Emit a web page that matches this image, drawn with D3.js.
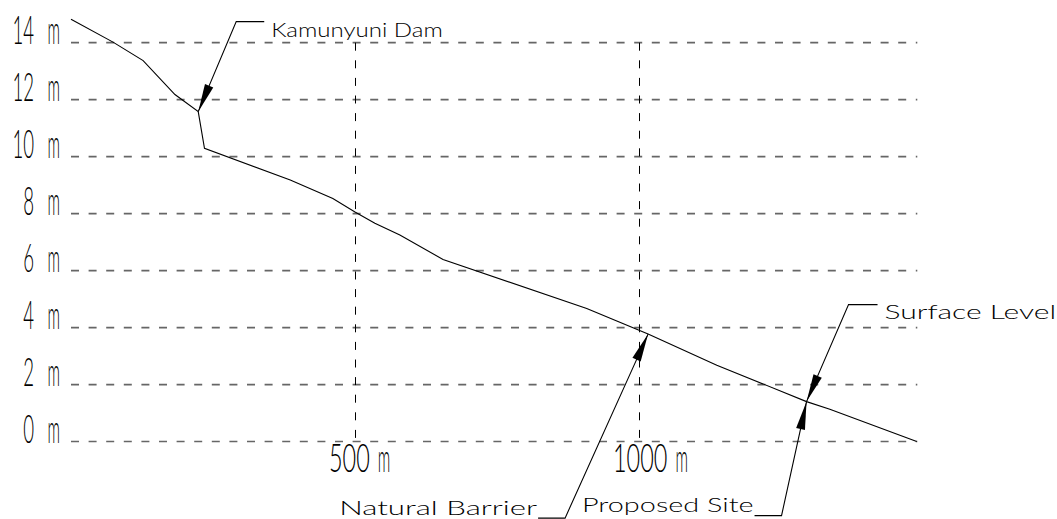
<!DOCTYPE html>
<html>
<head>
<meta charset="utf-8">
<script src="https://cdn.jsdelivr.net/npm/d3@7"></script>
<style>
    body { margin: 0; background: #fff; }
    #profile-vis { width: 1057px; height: 519px; }
    .cad-text { font-family: Lato, "DejaVu Sans", sans-serif; fill: #000; }
    .tick-text { font-weight: 300; font-size: 39px; }
    .note-text { font-weight: 300; font-size: 19px; }
</style>
</head>
<body>
<div id="profile-vis"></div>
<script>
// river bed profile, chainage in m and level in m
const chainage = [0, 74, 127, 183, 224, 235, 386, 461, 500, 535, 579, 655, 908, 1016, 1137, 1295, 1336, 1489];
const level = [14.82, 14.02, 13.37, 12.18, 11.58, 10.29, 9.18, 8.53, 8.06, 7.66, 7.25, 6.39, 4.67, 3.77, 2.68, 1.40, 1.13, 0.0];

const levelTicks = [0, 2, 4, 6, 8, 10, 12, 14];
const chainageTicks = [500, 1000];
const unit = "m";

// callouts: label + the point on the profile they point at
const calloutLabels = ["Kamunyuni Dam", "Natural Barrier", "Proposed Site", "Surface Level"];
const calloutChainage = [224, 1016, 1295, 1295];
const calloutLevel = [11.58, 3.77, 1.40, 1.40];

// squeeze a text horizontally so it is `w` px wide, CAD fonts are narrow
function squeeze(sel, x, y, w, anchor) {
    sel.each(function(d) {
        let t = d3.select(this);
        let nat = this.getComputedTextLength();
        let sx = (typeof w === "function" ? w(d) : w) / nat;
        let xx = typeof x === "function" ? x(d) : x;
        let yy = typeof y === "function" ? y(d) : y;
        t.attr("text-anchor", anchor || "start")
            .attr("transform", `translate(${xx},${yy}) scale(${sx},1)`);
    });
}

class ProfileVis {

    constructor(parentElement) {
        this.parentElement = parentElement;
        this.data = chainage.map((c, i) => ({x: c, y: level[i]}));
        this.callouts = calloutLabels.map((l, i) => ({label: l, x: calloutChainage[i], y: calloutLevel[i]}));
        this.initVis();
    }

    initVis() {
        let vis = this;

        vis.width = 1057;
        vis.height = 519;

        vis.svg = d3.select(`#${vis.parentElement}`)
            .append("svg")
            .attr("width", vis.width)
            .attr("height", vis.height);

        vis.x = d3.scaleLinear().domain([0, 1490]).range([71, 917.3]);
        vis.y = d3.scaleLinear().domain([0, 14]).range([441.5, 42.7]);

        // horizontal dashed levels
        vis.svg.selectAll(".hgrid")
            .data(levelTicks).enter()
            .append("line")
            .attr("class", "hgrid")
            .attr("x1", vis.x(0))
            .attr("x2", vis.x(1490))
            .attr("y1", d => vis.y(d))
            .attr("y2", d => vis.y(d))
            .style("stroke", "#666")
            .style("stroke-width", 1.7)
            .style("stroke-dasharray", "8,9.6");

        // vertical dashed chainage lines
        vis.svg.selectAll(".vgrid")
            .data(chainageTicks).enter()
            .append("line")
            .attr("class", "vgrid")
            .attr("x1", d => Math.round(vis.x(d)) + 0.5)
            .attr("x2", d => Math.round(vis.x(d)) + 0.5)
            .attr("y1", vis.y(14))
            .attr("y2", vis.y(0))
            .style("stroke", "#000")
            .style("stroke-width", 1)
            .style("stroke-dasharray", "8,9.6");

        // level labels: number right aligned, unit in its own slot
        vis.svg.selectAll(".ynum")
            .data(levelTicks).enter()
            .append("text")
            .attr("class", "cad-text tick-text ynum")
            .text(d => d)
            .call(squeeze, 34, d => vis.y(d) + 1, d => String(d).length * 10.8, "end");
        vis.svg.selectAll(".yunit")
            .data(levelTicks).enter()
            .append("text")
            .attr("class", "cad-text tick-text yunit")
            .text(unit)
            .call(squeeze, 47.5, d => vis.y(d) + 1, 12.5);

        // chainage labels
        let numW = d => String(d).length * 13.6;
        vis.svg.selectAll(".xnum")
            .data(chainageTicks).enter()
            .append("text")
            .attr("class", "cad-text tick-text xnum")
            .text(d => d)
            .call(squeeze, d => vis.x(d) - 26, 472, numW);
        vis.svg.selectAll(".xunit")
            .data(chainageTicks).enter()
            .append("text")
            .attr("class", "cad-text tick-text xunit")
            .text(unit)
            .call(squeeze, d => vis.x(d) - 26 + numW(d) + 8, 472, 12.5);

        // the profile itself
        let line = d3.line().x(d => vis.x(d.x)).y(d => vis.y(d.y));
        vis.svg.append("path")
            .datum(vis.data)
            .attr("d", line)
            .style("fill", "none")
            .style("stroke", "#000")
            .style("stroke-width", 1.1);

        vis.wrangleData();
    }

    wrangleData() {
        let vis = this;
        vis.updateVis();
    }

    updateVis() {
        let vis = this;

        // leader layout: knee offset from the tip, shoulder length, text side
        let layout = [
            {dx: 38, dy: -90, shoulder: 28, side: "right", ty: 15},
            {dx: -83, dy: 184, shoulder: -27, side: "left", ty: -3.5},
            {dx: -25, dy: 114, shoulder: -27, side: "left", ty: -4},
            {dx: 42, dy: -97, shoulder: 29, side: "right", ty: 14}
        ];

        vis.callouts.forEach((c, i) => {
            let L = layout[i];
            let tx = vis.x(c.x), ty = vis.y(c.y);
            let kx = tx + L.dx, ky = ty + L.dy;
            let ex = kx + L.shoulder;

            vis.svg.append("polyline")
                .attr("points", [[ex, ky], [kx, ky], [tx, ty]].map(p => p.join(",")).join(" "))
                .style("fill", "none")
                .style("stroke", "#000")
                .style("stroke-width", 1.1);

            // arrow head
            let len = Math.hypot(kx - tx, ky - ty);
            let ux = (kx - tx) / len, uy = (ky - ty) / len;
            let hl = 28, hw = 4.5;
            let bx = tx + ux * hl, by = ty + uy * hl;
            vis.svg.append("polygon")
                .attr("points", [[tx, ty], [bx - uy * hw, by + ux * hw], [bx + uy * hw, by - ux * hw]]
                    .map(p => p.join(",")).join(" "))
                .style("fill", "#000");

            vis.svg.append("text")
                .attr("class", "cad-text note-text")
                .text(c.label)
                .call(squeeze, L.side === "right" ? ex + 7 : ex - 1, ky + L.ty,
                    c.label.length * 13.2, L.side === "right" ? "start" : "end");
        });
    }
}

new ProfileVis("profile-vis");
</script>
</body>
</html>
